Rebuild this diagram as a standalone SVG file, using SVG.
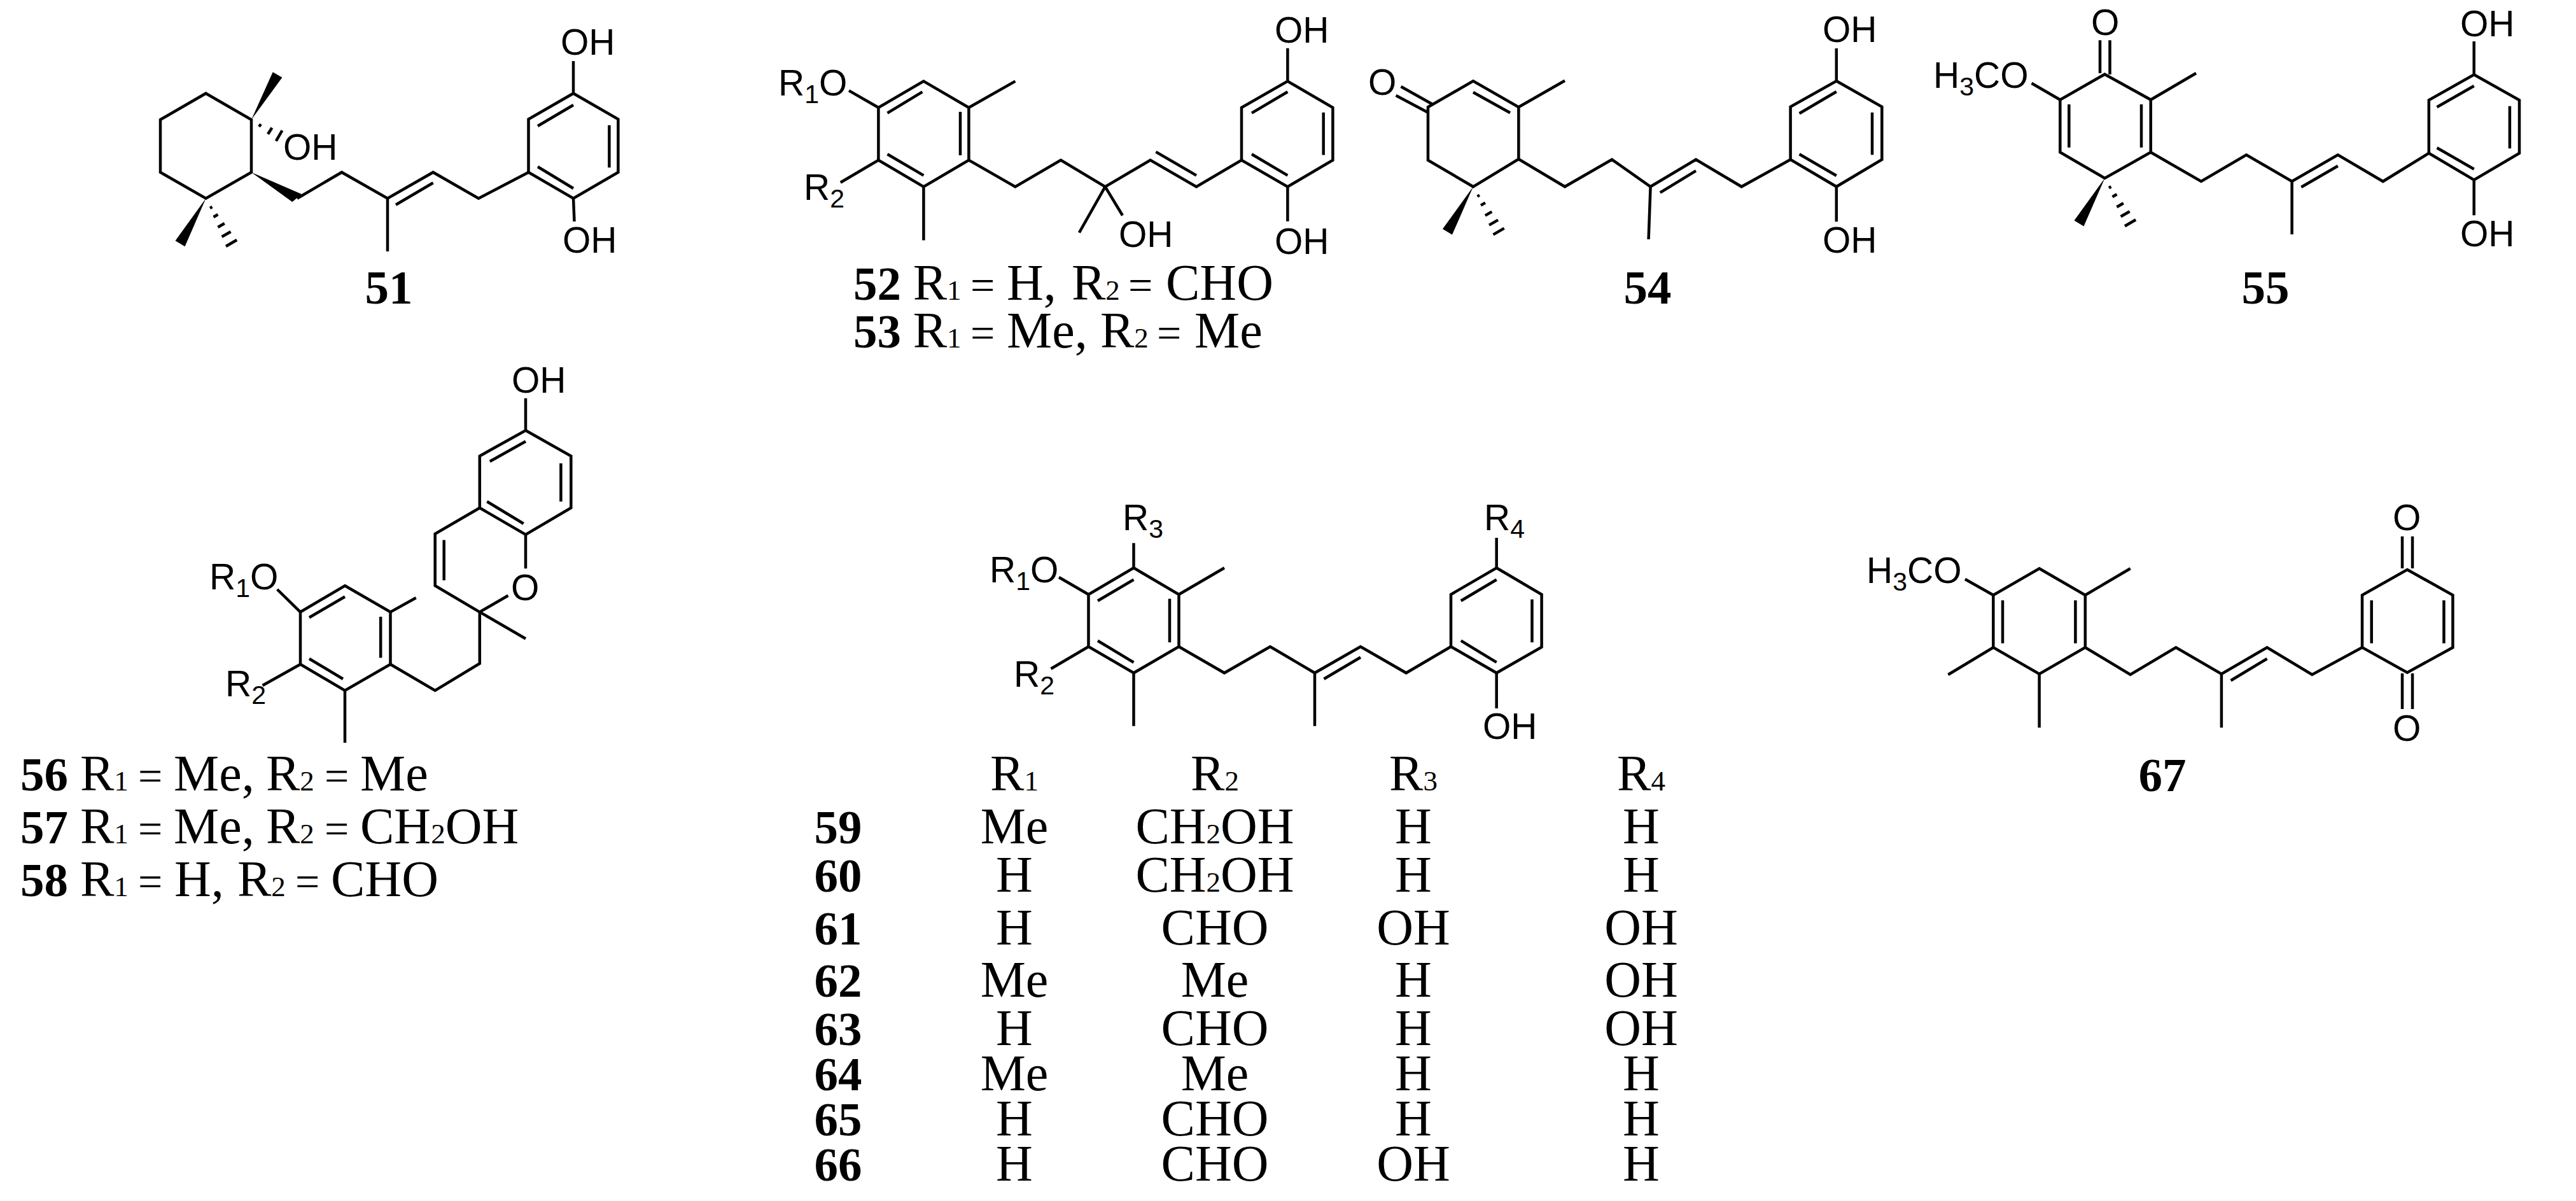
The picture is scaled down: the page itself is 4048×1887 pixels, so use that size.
<svg xmlns="http://www.w3.org/2000/svg" xmlns:xlink="http://www.w3.org/1999/xlink" width="4048" height="1887" viewBox="0 0 4048 1887">
<style>
.b{stroke:#000;stroke-width:4.5;fill:none;stroke-linejoin:miter}
.h{stroke:#000;stroke-width:4.5;fill:none}
.w{fill:#000;stroke:none}
.a{font-family:"Liberation Sans",Arial,sans-serif;font-size:57px;fill:#000}
.sa{font-size:41px}
.t{font-family:"Liberation Serif","Times New Roman",serif;font-size:80px;fill:#000}
.n{font-family:"Liberation Serif","Times New Roman",serif;font-size:75px;font-weight:bold;fill:#000}
.st{font-size:45px}
.e{font-size:68px}
.m{text-anchor:middle}
</style>
<defs>
<g id="gemdimethyl">
<polygon class="w" points="0,0 -48,66.5 -33,75.5"/>
<path class="h" d="M6.5,15.3L10,13.3M12,29.3L19,25.3M18.9,45.3L29.3,39.3M25.1,60.3L39.1,52.3M31.5,75.3L48.7,65.3"/>
</g>
</defs>
<rect width="4048" height="1887" fill="#fff"/>

<g id="compound-51">
<path class="b" d="M323.5,146.7L395,188V270.7L323.5,311.7L252,270.7V188Z"/>
<polygon class="w" points="395,188 428.7,113.3 443.4,121.7"/>
<polygon class="w" points="395,270.7 474,305 459.3,317.3"/>
<path class="h" d="M407,199L410,195M421,210.7L427.4,200.7M433.8,221.7L443.4,205"/>
<use xlink:href="#gemdimethyl" href="#gemdimethyl" x="323.5" y="311.7"/>
<path class="b" d="M467,311.7L537,270.7L609,311.7L680.6,270.7L752,311.7L830.5,270.7M622,321.7L680.6,287.3M609,311.7V395"/>
<path class="b" d="M901,146.7L971.4,187.3V270.7L901,311.7L830.5,270.7V187.3ZM845,198L901,165M957.4,196.7V263.3M845,262L901,296M901,146.7V96M901,311.7L902.5,348"/>
<text class="a" x="445" y="251">OH</text>
<text class="a" x="881" y="86">OH</text>
<text class="a" x="884" y="397">OH</text>
<text class="n m" x="611" y="477">51</text>
</g>

<g id="compound-52-53">
<path class="b" d="M1451.4,127.6L1522.4,169V251.6L1451.4,293.4L1380.4,251.6V169ZM1394.5,177.6L1449.4,144.3M1509,175.7V244M1394.5,242.3L1451.4,275.6M1380.4,169L1334,142.4M1380.4,251.6L1320.8,286.7M1522.4,169L1595.4,127.6M1451.4,293.4V377.4"/>
<path class="b" d="M1522.4,251.6L1595.4,293.4L1667,251.6L1736.7,293.4L1807.7,251.6L1880,293.4L1951,251.6M1816.4,238.6L1880,275.6M1736.7,293.4L1695.9,365.5M1736.7,293.4L1764,338.5"/>
<path class="b" d="M2023.4,127.6L2094.4,169V251.6L2023.4,293.4L1951,251.6V169ZM1967,177.6L2023.4,144.3M2079.7,176.8V243.4M1967,242.3L2023.4,275.6M2023.4,127.6V75.8M2023.4,293.4V347.8"/>
<text class="a" x="1223" y="150">R<tspan class="sa" dy="12">1</tspan><tspan dy="-12">O</tspan></text>
<text class="a" x="1263" y="314">R<tspan class="sa" dy="12">2</tspan></text>
<text class="a" x="1758" y="388">OH</text>
<text class="a" x="2003" y="67">OH</text>
<text class="a" x="2003" y="399">OH</text>
<text class="t" y="470.6"><tspan class="n" x="1341">52</tspan><tspan x="1434.7">R</tspan><tspan class="st">1</tspan><tspan class="e" x="1525">=</tspan><tspan x="1582">H,</tspan><tspan x="1684">R</tspan><tspan class="st">2</tspan><tspan class="e" x="1773">=</tspan><tspan x="1832">CHO</tspan></text>
<text class="t" y="545.7"><tspan class="n" x="1341">53</tspan><tspan x="1434.7">R</tspan><tspan class="st">1</tspan><tspan class="e" x="1525">=</tspan><tspan x="1582">Me,</tspan><tspan x="1729">R</tspan><tspan class="st">2</tspan><tspan class="e" x="1818">=</tspan><tspan x="1877">Me</tspan></text>
</g>

<g id="compound-54">
<path class="b" d="M2244,168.3L2315,127.3L2386.4,168.3V250L2315,293.3L2244,251.7ZM2201.5,136L2250,163.3M2193.6,150L2244,176.7M2315,145L2373,177.3M2386.4,168.3L2459,126.7"/>
<use xlink:href="#gemdimethyl" href="#gemdimethyl" x="2315" y="293.3"/>
<path class="b" d="M2386.4,250L2459,293.3L2533,250.7L2593.6,293.3L2665,250.7L2736.7,293.3L2813.6,250.7M2608.8,302.7L2665,268.3M2593.6,293.3L2590.6,376"/>
<path class="b" d="M2885.8,127.3L2957.3,167.7V250.7L2885.8,293.3L2813.6,250.7V167.7ZM2827.6,178.3L2885.8,144M2942,176.7V243.3M2827.6,242.3L2885.8,276M2885.8,127.3V76M2885.8,293.3V348.3"/>
<text class="a" x="2150" y="149">O</text>
<text class="a" x="2864" y="66">OH</text>
<text class="a" x="2864" y="397">OH</text>
<text class="n m" x="2589" y="477">54</text>
</g>

<g id="compound-55">
<path class="b" d="M3307.5,116.7L3379.7,156.7V239.3L3307.5,280L3237.3,239.3V156.7ZM3300,63.3V115M3315.5,63.3V117M3237.3,156.7L3192.5,130.7M3251.3,164V231.7M3365,164V231.7M3379.7,156.7L3451,115"/>
<use xlink:href="#gemdimethyl" href="#gemdimethyl" x="3307.5" y="280"/>
<path class="b" d="M3379.7,239.3L3459,285L3530,243.3L3601.6,285L3673.8,243.3L3744.7,285L3816.8,240.7M3616.3,294L3673.8,260.7M3601.6,285V368.3"/>
<path class="b" d="M3887.7,117.3L3959,157.3V240.7L3887.7,282.7L3816.8,240.7V157.3ZM3829.5,168.3L3887.7,135M3943.9,166.7V233.3M3829.5,232.3L3887.7,265.7M3887.7,117.3V65M3887.7,282.7V338.3"/>
<text class="a" x="3286" y="55">O</text>
<text class="a" x="3038" y="138">H<tspan class="sa" dy="12">3</tspan><tspan dy="-12">CO</tspan></text>
<text class="a" x="3866" y="57">OH</text>
<text class="a" x="3866" y="387">OH</text>
<text class="n m" x="3560" y="477">55</text>
</g>

<g id="compound-56-58">
<path class="b" d="M826,676.3L897.3,716.5V798L826,840L753.8,798V716.5ZM769.8,725L826,693.5M881.4,728V788M765.3,788L822.7,822.7M826,676.3V625.8"/>
<path class="b" d="M753.8,798L683.7,838.8V920.3L753.8,961.6L798.5,935.8M826,840V893.3M697.7,848.5V911.7M753.8,961.6L826,1003.5M753.8,961.6V1042.5L683.7,1085L613.5,1043.7"/>
<path class="b" d="M542,920.3L613.5,961.6V1043.7L542,1085L472,1043.7V961.6ZM486,970.2L542,937.5M598.2,969V1033.4M486,1035L539,1066.7M613.5,961.6L653.7,939.2M542,1085V1167M472,961.6L435.6,926M472,1043.7L412.6,1077"/>
<text class="a" x="804" y="617">OH</text>
<text class="a" x="803" y="943">O</text>
<text class="a" x="329" y="926">R<tspan class="sa" dy="12">1</tspan><tspan dy="-12">O</tspan></text>
<text class="a" x="354" y="1094">R<tspan class="sa" dy="12">2</tspan></text>
<text class="t" y="1241.7"><tspan class="n" x="32">56</tspan><tspan x="126">R</tspan><tspan class="st">1</tspan><tspan class="e" x="217">=</tspan><tspan x="273">Me,</tspan><tspan x="418">R</tspan><tspan class="st">2</tspan><tspan class="e" x="510">=</tspan><tspan x="566">Me</tspan></text>
<text class="t" y="1325"><tspan class="n" x="32">57</tspan><tspan x="126">R</tspan><tspan class="st">1</tspan><tspan class="e" x="217">=</tspan><tspan x="273">Me,</tspan><tspan x="418">R</tspan><tspan class="st">2</tspan><tspan class="e" x="510">=</tspan><tspan x="566">CH</tspan><tspan class="st">2</tspan><tspan>OH</tspan></text>
<text class="t" y="1408"><tspan class="n" x="32">58</tspan><tspan x="126">R</tspan><tspan class="st">1</tspan><tspan class="e" x="217">=</tspan><tspan x="274">H,</tspan><tspan x="373">R</tspan><tspan class="st">2</tspan><tspan class="e" x="464">=</tspan><tspan x="520">CHO</tspan></text>
</g>

<g id="compound-59-66">
<path class="b" d="M1781.5,892.3L1852.5,934V1016L1781.5,1057.3L1710.5,1016V934ZM1725,944L1781.5,910.7M1838,940.7V1009.3M1725,1006.7L1781.5,1040.7M1781.5,892.3V853.3M1710.5,934L1664,907M1710.5,1016L1651.5,1050.7M1852.5,934L1924,892.3M1781.5,1057.3V1140.7"/>
<path class="b" d="M1852.5,1016L1924,1057.3L1996,1016L2066,1057.3L2138,1016L2209.7,1057.3L2280,1016M2080.5,1066.7L2138,1032.7M2066,1057.3V1140.7"/>
<path class="b" d="M2351.7,892.3L2422.6,934V1016.7L2351.7,1057.3L2280,1016V934ZM2295.8,944L2351.7,910.7M2407.5,941.7V1009.3M2295.8,1006.7L2351.7,1040.7M2351.7,892.3V845M2351.7,1057.3V1113"/>
<text class="a" x="1764" y="833">R<tspan class="sa" dy="12">3</tspan></text>
<text class="a" x="1555" y="915">R<tspan class="sa" dy="12">1</tspan><tspan dy="-12">O</tspan></text>
<text class="a" x="1593" y="1079">R<tspan class="sa" dy="12">2</tspan></text>
<text class="a" x="2332" y="833">R<tspan class="sa" dy="12">4</tspan></text>
<text class="a" x="2330" y="1161">OH</text>
</g>

<g id="table-59-66">
<g class="t m">
<text x="1594" y="1242">R<tspan class="st">1</tspan></text>
<text x="1909" y="1242">R<tspan class="st">2</tspan></text>
<text x="2221" y="1242">R<tspan class="st">3</tspan></text>
<text x="2579" y="1242">R<tspan class="st">4</tspan></text>
<text x="1594" y="1324.5">Me</text><text x="1909" y="1324.5">CH<tspan class="st">2</tspan>OH</text><text x="2221" y="1324.5">H</text><text x="2579" y="1324.5">H</text>
<text x="1594" y="1401">H</text><text x="1909" y="1401">CH<tspan class="st">2</tspan>OH</text><text x="2221" y="1401">H</text><text x="2579" y="1401">H</text>
<text x="1594" y="1483.7">H</text><text x="1909" y="1483.7">CHO</text><text x="2221" y="1483.7">OH</text><text x="2579" y="1483.7">OH</text>
<text x="1594" y="1565.5">Me</text><text x="1909" y="1565.5">Me</text><text x="2221" y="1565.5">H</text><text x="2579" y="1565.5">OH</text>
<text x="1594" y="1642">H</text><text x="1909" y="1642">CHO</text><text x="2221" y="1642">H</text><text x="2579" y="1642">OH</text>
<text x="1594" y="1712.8">Me</text><text x="1909" y="1712.8">Me</text><text x="2221" y="1712.8">H</text><text x="2579" y="1712.8">H</text>
<text x="1594" y="1783.6">H</text><text x="1909" y="1783.6">CHO</text><text x="2221" y="1783.6">H</text><text x="2579" y="1783.6">H</text>
<text x="1594" y="1854.5">H</text><text x="1909" y="1854.5">CHO</text><text x="2221" y="1854.5">OH</text><text x="2579" y="1854.5">H</text>
</g>
<g class="n m">
<text x="1317" y="1324.5">59</text>
<text x="1317" y="1401">60</text>
<text x="1317" y="1483.7">61</text>
<text x="1317" y="1565.5">62</text>
<text x="1317" y="1642">63</text>
<text x="1317" y="1712.8">64</text>
<text x="1317" y="1783.6">65</text>
<text x="1317" y="1854.5">66</text>
</g>
</g>

<g id="compound-67">
<path class="b" d="M3204.6,893.3L3276.8,935V1017.3L3204.6,1059L3132.3,1017.3V935ZM3147,943.3V1010.7M3261.4,943.3V1010.7M3132.3,935L3088,910M3276.8,935L3347.7,893.3M3132.3,1017.3L3061.4,1060M3204.6,1059V1143.3"/>
<path class="b" d="M3276.8,1017.3L3347.7,1060L3419.3,1017.3L3490.9,1059L3562.5,1017.3L3633.3,1060L3712,1017.3M3505.6,1069.3L3562.5,1035M3490.9,1059V1143.3"/>
<path class="b" d="M3782.8,895L3854.4,935V1017.3L3782.8,1056.7L3712,1017.3V935ZM3726.7,943.3V1010.7M3840.4,943.3V1010.7M3775,842.7V893M3791,842.7V893M3775,1058V1114M3791,1058V1114"/>
<text class="a" x="2933" y="916">H<tspan class="sa" dy="12">3</tspan><tspan dy="-12">CO</tspan></text>
<text class="a" x="3760" y="833">O</text>
<text class="a" x="3760" y="1164">O</text>
<text class="n m" x="3398" y="1243">67</text>
</g>
</svg>
